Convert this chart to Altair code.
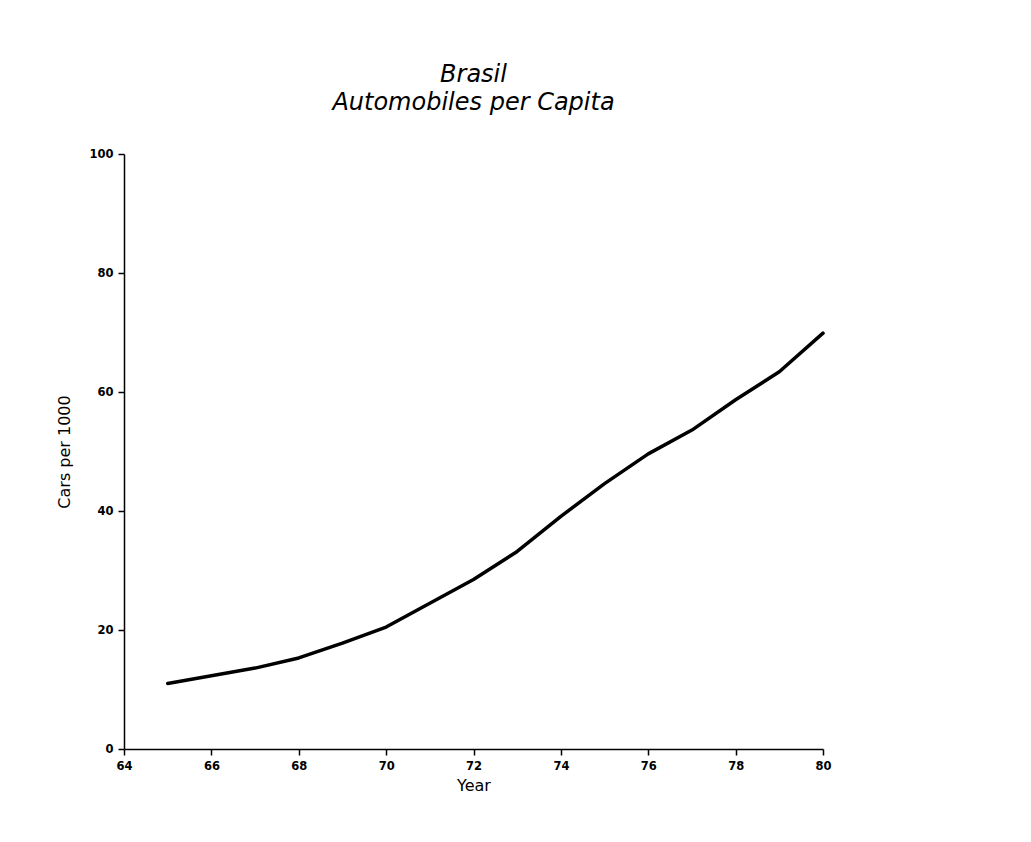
import altair as alt
import pandas as pd

years = [65, 66, 67, 68, 69, 70, 71, 72, 73, 74, 75, 76, 77, 78, 79, 80]
cars_per_1000 = [11.0, 12.3, 13.6, 15.3, 17.8, 20.5, 24.5, 28.5, 33.2, 39.1, 44.6, 49.6, 53.6, 58.7, 63.4, 69.9]
x_ticks = [64, 66, 68, 70, 72, 74, 76, 78, 80]
y_ticks = [0, 20, 40, 60, 80, 100]
title_lines = ["Brasil", "Automobiles per Capita"]

df = pd.DataFrame({"Year": years, "Cars": cars_per_1000})

FONT = "DejaVu Sans"

chart = (
    alt.Chart(df)
    .mark_line(color="black", strokeWidth=3.5, strokeCap="round", strokeJoin="round")
    .encode(
        x=alt.X(
            "Year:Q",
            scale=alt.Scale(domain=[64, 80], nice=False, zero=False),
            axis=alt.Axis(values=x_ticks, title="Year", format="d", labelFlush=False),
        ),
        y=alt.Y(
            "Cars:Q",
            scale=alt.Scale(domain=[0, 100], nice=False),
            axis=alt.Axis(values=y_ticks, title="Cars per 1000", format="d", labelFlush=False),
        ),
    )
    .properties(
        width=699,
        height=595,
        autosize=alt.AutoSizeParams(type="none"),
        padding={"left": 116, "top": 146, "right": 200, "bottom": 80},
        title=alt.TitleParams(
            text=title_lines,
            font=FONT,
            fontSize=24,
            fontStyle="italic",
            fontWeight="normal",
            lineHeight=28,
            color="black",
            anchor="middle",
            offset=33,
        ),
    )
    .configure_view(stroke=None)
    .configure_axis(
        grid=False,
        domainColor="black",
        domainWidth=1.5,
        tickColor="black",
        tickWidth=1.5,
        tickSize=6,
        labelFont=FONT,
        labelFontSize=11.5,
        labelFontWeight="bold",
        labelColor="black",
        titleFont=FONT,
        titleFontSize=16,
        titleFontWeight="normal",
        titleColor="black",
    )
    .configure_axisX(labelPadding=5, titlePadding=6)
    .configure_axisY(labelPadding=5, titlePadding=16)
)

chart.save("out.html", embed_options={"renderer": "svg", "actions": False})
